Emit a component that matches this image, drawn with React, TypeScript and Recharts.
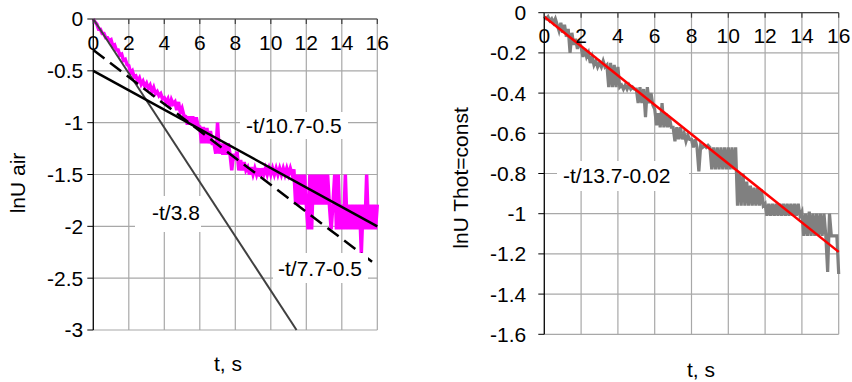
import { LineChart, Line, XAxis, YAxis, CartesianGrid } from 'recharts';

// sampling grid, 0.1 s steps
const sampleT = Array.from({ length: 161 }, (_, i) => i / 10);

// lnU air (magenta trace)
const lnUAir = [
  0, -0.03, -0.05, -0.1, -0.1, -0.14, -0.14, -0.18, -0.18, -0.21,
  -0.2, -0.26, -0.25, -0.3, -0.3, -0.35, -0.34, -0.4, -0.39, -0.44,
  -0.45, -0.52, -0.5, -0.56, -0.55, -0.6, -0.57, -0.63, -0.6, -0.65,
  -0.62, -0.67, -0.64, -0.7, -0.66, -0.72, -0.7, -0.74, -0.72, -0.77,
  -0.76, -0.8, -0.77, -0.85, -0.78, -0.82, -0.8, -0.88, -0.8, -0.9,
  -0.86, -0.93, -0.94, -1.02, -0.94, -1.02, -0.94, -1.03, -0.95, -1.03,
  -1.04, -1.2, -1.04, -1.2, -1.05, -1.2, -1.08, -1.2, -1.2, -1.3,
  -1.0, -1.3, -1.2, -1.31, -1.2, -1.31, -1.2, -1.3, -1.46, -1.3,
  -1.36, -1.28, -1.46, -1.36, -1.46, -1.38, -1.46, -1.43, -1.5, -1.43,
  -1.5, -1.44, -1.5, -1.44, -1.52, -1.44, -1.5, -1.44, -1.5, -1.44,
  -1.5, -1.44, -1.5, -1.44, -1.5, -1.44, -1.5, -1.44, -1.5, -1.44,
  -1.5, -1.44, -1.5, -1.45, -1.79, -1.5, -1.79, -1.5, -1.79, -1.5,
  -1.79, -2.03, -1.5, -2.03, -1.5, -1.79, -1.5, -1.79, -1.5, -1.79,
  -1.5, -1.79, -1.5, -1.79, -2.03, -1.79, -1.5, -2.03, -1.5, -2.03,
  -1.79, -2.03, -1.5, -2.03, -1.79, -2.03, -1.79, -2.03, -1.79, -2.03,
  -1.79, -2.26, -1.79, -2.03, -1.5, -2.03, -1.79, -2.03, -1.79, -2.03,
  -1.79,
];

// lnU Thot=const (gray trace)
const lnUHot = [
  -0.02, -0.03, -0.02, -0.04, -0.03, -0.05, -0.03, -0.06, -0.09, -0.05,
  -0.1, -0.06, -0.12, -0.08, -0.2, -0.1, -0.16, -0.13, -0.18, -0.15,
  -0.17, -0.22, -0.18, -0.22, -0.2, -0.25, -0.22, -0.26, -0.24, -0.27,
  -0.25, -0.27, -0.24, -0.27, -0.26, -0.37, -0.25, -0.37, -0.26, -0.37,
  -0.27, -0.37, -0.36, -0.38, -0.36, -0.38, -0.36, -0.38, -0.37, -0.38,
  -0.38, -0.45, -0.37, -0.45, -0.38, -0.52, -0.37, -0.45, -0.4, -0.46,
  -0.48, -0.56, -0.5, -0.57, -0.45, -0.57, -0.5, -0.57, -0.52, -0.57,
  -0.57, -0.64, -0.57, -0.63, -0.57, -0.63, -0.6, -0.64, -0.61, -0.63,
  -0.63, -0.67, -0.63, -0.67, -0.79, -0.66, -0.67, -0.66, -0.67, -0.66,
  -0.67, -0.78, -0.67, -0.78, -0.67, -0.78, -0.67, -0.78, -0.67, -0.78,
  -0.67, -0.78, -0.67, -0.78, -0.67, -0.96, -0.8, -0.96, -0.8, -0.96,
  -0.84, -0.96, -0.86, -0.96, -0.87, -0.96, -0.87, -0.96, -0.88, -0.96,
  -0.95, -1.01, -0.95, -1.01, -0.95, -1.01, -0.95, -1.01, -0.95, -1.01,
  -0.95, -1.01, -0.95, -1.01, -0.95, -1.01, -0.95, -1.01, -0.95, -1.01,
  -0.99, -1.11, -1.0, -1.11, -0.99, -1.11, -1.0, -1.11, -1.0, -1.11,
  -1.0, -1.11, -1.0, -1.11, -1.29, -1.0, -1.11, -1.11, -1.11, -1.11,
  -1.3,
];

// fitted lines, end points
const fastT = [0, 11.45];
const fastV = [0, -3];
const slowT = [0, 16];
const slowV = [-0.5, -2.0];
const dashT = [0, 16];
const dashV = [-0.3, -2.38];
const hotFitT = [0, 16];
const hotFitV = [-0.02, -1.19];

const xTicks = [0, 2, 4, 6, 8, 10, 12, 14, 16];
const airTicks = [0, -0.5, -1, -1.5, -2, -2.5, -3];
const hotTicks = [0, -0.2, -0.4, -0.6, -0.8, -1, -1.2, -1.4, -1.6];

const zip = (ts: number[], vs: number[]) => ts.map((t, i) => ({ t, v: vs[i] }));

const airData = zip(sampleT, lnUAir);
const hotData = zip(sampleT, lnUHot);

const FONT = '"Liberation Sans", Arial, sans-serif';
const GRID = '#a8a8a8';
const tickStyle = { fill: '#000', fontSize: 21 };

// top axis: short marks below the line, labels sitting inside the plot
const topTick = (axisY: number, baseline: number) => (props: any) => {
  const { x, payload } = props;
  return (
    <g>
      <line x1={x} x2={x} y1={axisY} y2={axisY + 5} stroke="#404040" strokeWidth={1.2} />
      <text x={x} y={baseline} textAnchor="middle" fill="#000" fontSize={21} fontFamily={FONT}>
        {payload.value}
      </text>
    </g>
  );
};

export default function App() {
  return (
    <div style={{ position: 'absolute', left: 0, top: 0, width: 852, height: 382, fontFamily: FONT, background: '#fff' }}>
      <div style={{ position: 'absolute', left: 0, top: 0 }}>
        <LineChart width={426} height={382} margin={{ top: 18, right: 48.7, bottom: 52, left: 0 }}>
          <CartesianGrid stroke={GRID} strokeWidth={1.2} />
          <XAxis
            dataKey="t"
            type="number"
            domain={[0, 16]}
            ticks={xTicks}
            interval={0}
            orientation="top"
            height={1}
            tick={topTick(19, 50)}
            tickLine={false}
            axisLine={{ stroke: '#404040', strokeWidth: 1.2 }}
          />
          <YAxis
            type="number"
            domain={[-3, 0]}
            ticks={airTicks}
            interval={0}
            width={93.3}
            tick={tickStyle}
            tickSize={6}
            tickMargin={4}
            axisLine={{ stroke: '#000', strokeWidth: 1.2 }}
            tickLine={{ stroke: '#000' }}
          />
          <Line data={airData} dataKey="v" stroke="#ff00ff" strokeWidth={3.5} dot={false} isAnimationActive={false} />
          <Line data={zip(fastT, fastV)} dataKey="v" stroke="#404040" strokeWidth={2} dot={false} isAnimationActive={false} />
          <Line data={zip(dashT, dashV)} dataKey="v" stroke="#000" strokeWidth={2.5} strokeDasharray="14 7" dot={false} isAnimationActive={false} />
          <Line data={zip(slowT, slowV)} dataKey="v" stroke="#000" strokeWidth={2.5} dot={false} isAnimationActive={false} />
        </LineChart>
      </div>
      <div style={{ position: 'absolute', left: 426, top: 0 }}>
        <LineChart width={426} height={382} margin={{ top: 11.7, right: 13.3, bottom: 47.7, left: 0 }}>
          <CartesianGrid stroke={GRID} strokeWidth={1.2} />
          <XAxis
            dataKey="t"
            type="number"
            domain={[0, 16]}
            ticks={xTicks}
            interval={0}
            orientation="top"
            height={1}
            tick={topTick(12.7, 43)}
            tickLine={false}
            axisLine={{ stroke: '#404040', strokeWidth: 1.2 }}
          />
          <YAxis
            type="number"
            domain={[-1.6, 0]}
            ticks={hotTicks}
            interval={0}
            width={118.3}
            tick={tickStyle}
            tickSize={6}
            tickMargin={12}
            axisLine={{ stroke: '#000', strokeWidth: 1.2 }}
            tickLine={{ stroke: '#000' }}
          />
          <Line data={hotData} dataKey="v" stroke="#808080" strokeWidth={3.2} dot={false} isAnimationActive={false} />
          <Line data={zip(hotFitT, hotFitV)} dataKey="v" stroke="#ff0000" strokeWidth={2.5} dot={false} isAnimationActive={false} />
        </LineChart>
      </div>
      <svg width={852} height={382} style={{ position: 'absolute', left: 0, top: 0, pointerEvents: 'none' }} fontFamily={FONT} fontSize={21}>
        <rect x={240} y={112} width={108} height={27} fill="#fff" />
        <text x={246} y={133}>-t/10.7-0.5</text>
        <rect x={135} y={196} width={66} height={36} fill="#fff" />
        <text x={152} y={220}>-t/3.8</text>
        <rect x={273} y={253} width={95} height={30} fill="#fff" />
        <text x={278} y={276}>-t/7.7-0.5</text>
        <rect x={557} y={161} width={132} height={30} fill="#fff" />
        <text x={563} y={183}>-t/13.7-0.02</text>

        <text transform="translate(25,183) rotate(-90)" textAnchor="middle">lnU air</text>
        <text x={228} y={371} textAnchor="middle">t, s</text>
        <text transform="translate(468,178) rotate(-90)" textAnchor="middle">lnU Thot=const</text>
        <text x={701} y={377} textAnchor="middle">t, s</text>
      </svg>
    </div>
  );
}
